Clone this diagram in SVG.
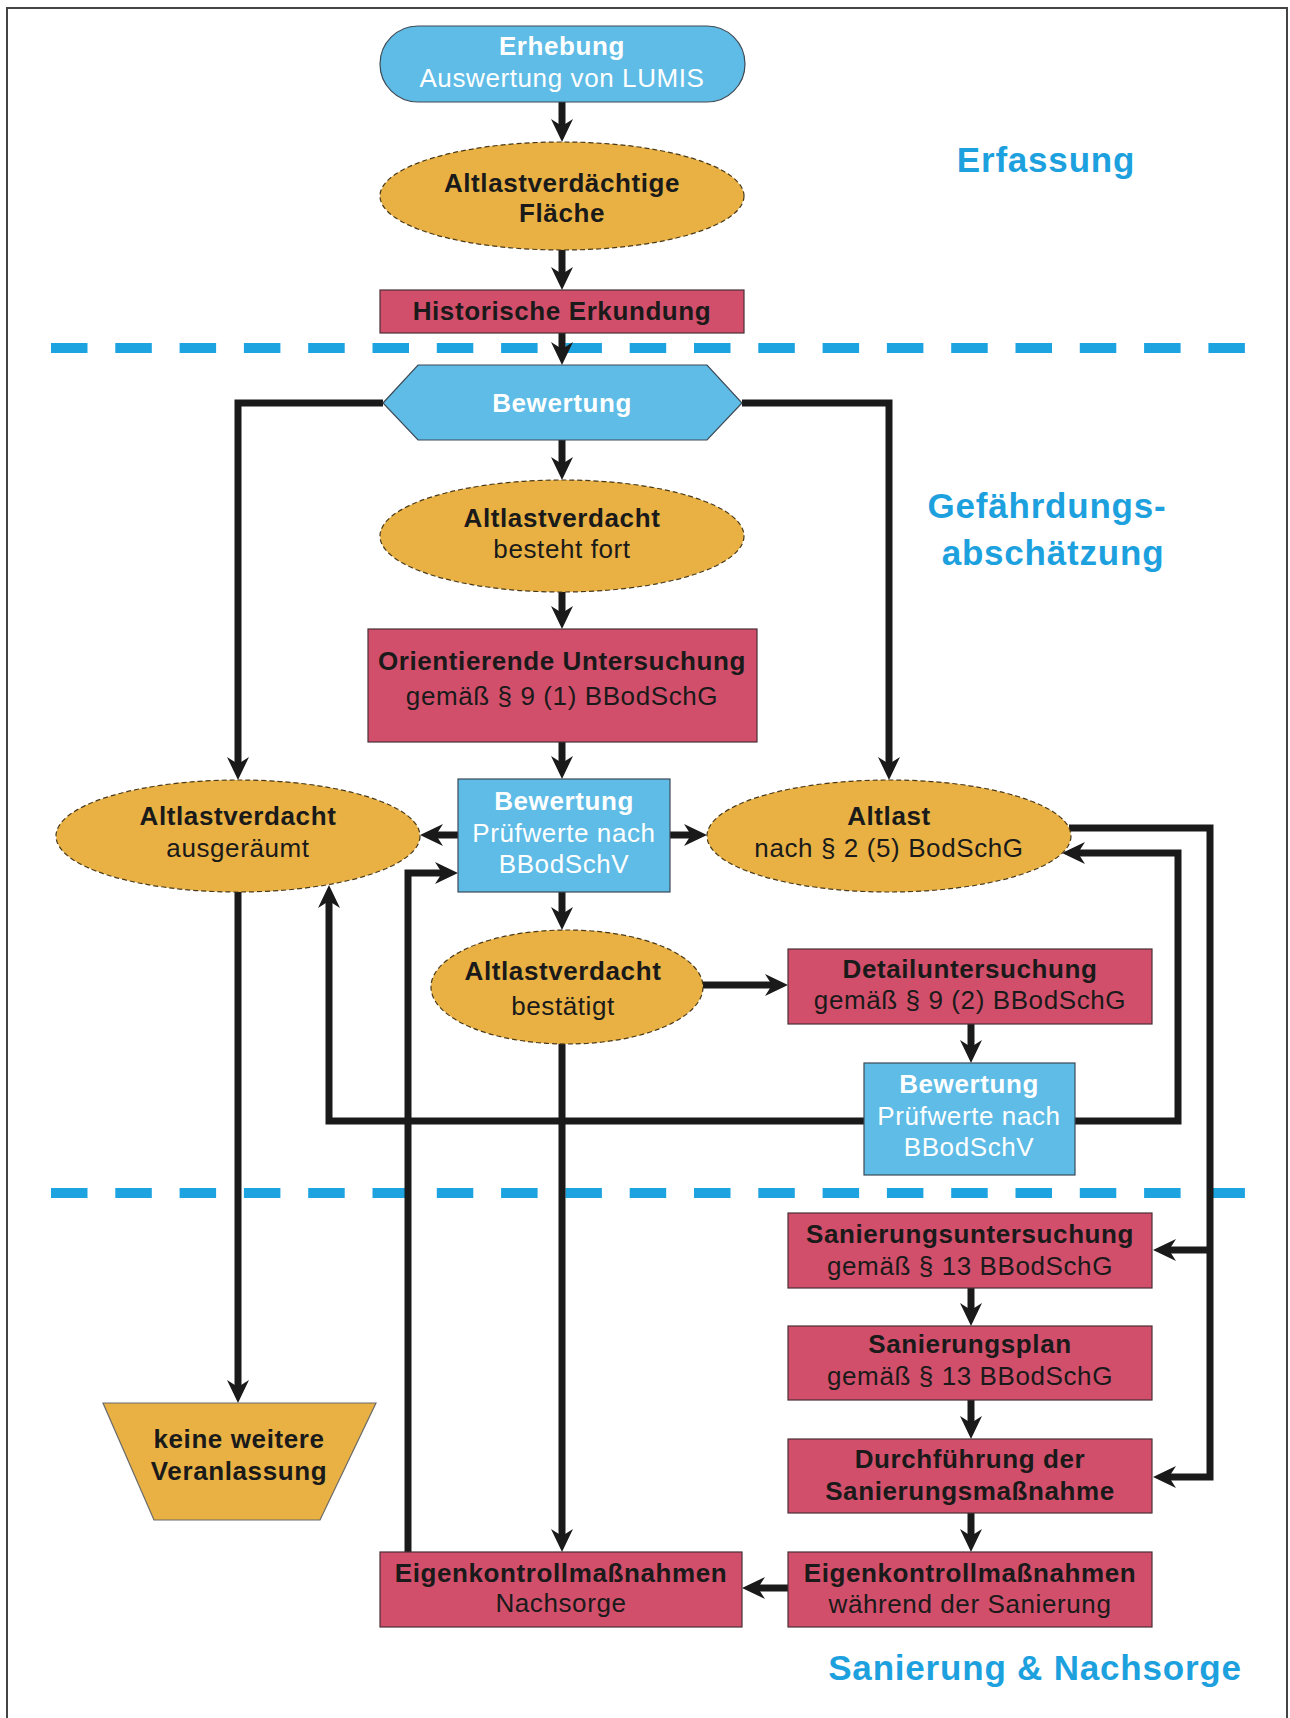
<svg xmlns="http://www.w3.org/2000/svg" width="1290" height="1718" viewBox="0 0 1290 1718">
<defs>
<style>
text{font-family:"Liberation Sans",Arial,sans-serif;font-size:26px;letter-spacing:0.6px;text-anchor:middle;fill:#1a1a1a}
.b{font-weight:bold}
.w{fill:#ffffff}
.lab{font-size:35px;font-weight:bold;fill:#1DA1DE;letter-spacing:0.8px}
.blue{fill:#5EBCE6;stroke:#3d4a55;stroke-width:1.2}
.red{fill:#D14F6A;stroke:#4a3038;stroke-width:1.2}
.ora{fill:#E9B143;stroke:#4a3a1a;stroke-width:1.2;stroke-dasharray:5 3}
.oras{fill:#E9B143;stroke:#6a6a6a;stroke-width:1.2}
.sep{stroke:#1CA3E0;stroke-width:10;stroke-dasharray:36.5 27.8;fill:none}
.c{fill:none;stroke:#1a1a1a;stroke-width:7;stroke-linejoin:miter;marker-end:url(#ah)}
.cn{fill:none;stroke:#1a1a1a;stroke-width:7;stroke-linejoin:miter}
</style>
<marker id="ah" markerUnits="userSpaceOnUse" viewBox="-10 -15 30 30" markerWidth="30" markerHeight="30" refX="0" refY="0" orient="auto">
<path d="M16,0 L-7,-11 L0,0 L-7,11 Z" fill="#1a1a1a"/>
</marker>
</defs>
<rect x="7" y="8" width="1280" height="1730" fill="none" stroke="#444" stroke-width="2"/>

<g id="separators">
<line class="sep" x1="51" y1="348" x2="1247" y2="348"/>
<line class="sep" x1="51" y1="1193" x2="1247" y2="1193"/>
</g>

<g id="connectors">
<path class="c" d="M562,102 V126"/>
<path class="c" d="M562,250 V274"/>
<path class="c" d="M562,333 V349"/>
<path class="c" d="M562,440 V464"/>
<path class="c" d="M562,592 V613"/>
<path class="c" d="M562,742 V763"/>
<path class="c" d="M383,403 H238 V764"/>
<path class="c" d="M742,403 H889 V764"/>
<path class="c" d="M458,835 H436"/>
<path class="c" d="M670,835 H691"/>
<path class="c" d="M562,892 V914"/>
<path class="c" d="M703,985 H772"/>
<path class="c" d="M971,1024 V1047"/>
<path class="c" d="M864,1121 H329 V901"/>
<path class="c" d="M1075,1121 H1178 V853 H1078"/>
<path class="c" d="M1069,828 H1210 V1477 H1169"/>
<path class="c" d="M1210,1250 H1169"/>
<path class="c" d="M238,892 V1387"/>
<path class="c" d="M562,1043 V1536"/>
<path class="c" d="M408,1552 V873 H442"/>
<path class="c" d="M971,1288 V1310"/>
<path class="c" d="M971,1400 V1423"/>
<path class="c" d="M971,1513 V1536"/>
<path class="c" d="M788,1588 H758"/>
</g>

<g id="erhebung">
<rect class="blue" x="380" y="26" width="365" height="76" rx="38" ry="38"/>
<text class="b w" x="562" y="55">Erhebung</text>
<text class="w" x="562" y="87">Auswertung von LUMIS</text>
</g>

<g id="flaeche">
<ellipse class="ora" cx="562" cy="196" rx="182" ry="54"/>
<text class="b" x="562" y="192">Altlastverdächtige</text>
<text class="b" x="562" y="222">Fläche</text>
</g>

<g id="historische">
<rect class="red" x="380" y="290" width="364" height="43"/>
<text class="b" x="562" y="320">Historische Erkundung</text>
</g>

<g id="bewertung1">
<polygon class="blue" points="383,403 418,365 707,365 742,403 707,440 418,440"/>
<text class="b w" x="562" y="412">Bewertung</text>
</g>

<g id="besteht">
<ellipse class="ora" cx="562" cy="536" rx="182" ry="56"/>
<text class="b" x="562" y="527">Altlastverdacht</text>
<text x="562" y="558">besteht fort</text>
</g>

<g id="orientierende">
<rect class="red" x="368" y="629" width="389" height="113"/>
<text class="b" x="562" y="670">Orientierende Untersuchung</text>
<text x="562" y="705">gemäß § 9 (1) BBodSchG</text>
</g>

<g id="bewertung2">
<rect class="blue" x="458" y="779" width="212" height="113"/>
<text class="b w" x="564" y="810">Bewertung</text>
<text class="w" x="564" y="842">Prüfwerte nach</text>
<text class="w" x="564" y="873">BBodSchV</text>
</g>

<g id="ausgeraeumt">
<ellipse class="ora" cx="238" cy="836" rx="182" ry="56"/>
<text class="b" x="238" y="825">Altlastverdacht</text>
<text x="238" y="857">ausgeräumt</text>
</g>

<g id="altlast">
<ellipse class="ora" cx="889" cy="836" rx="182" ry="56"/>
<text class="b" x="889" y="825">Altlast</text>
<text x="889" y="857">nach § 2 (5) BodSchG</text>
</g>

<g id="bestaetigt">
<ellipse class="ora" cx="567" cy="987" rx="136" ry="57"/>
<text class="b" x="563" y="980">Altlastverdacht</text>
<text x="563" y="1015">bestätigt</text>
</g>

<g id="detail">
<rect class="red" x="788" y="949" width="364" height="75"/>
<text class="b" x="970" y="978">Detailuntersuchung</text>
<text x="970" y="1009">gemäß § 9 (2) BBodSchG</text>
</g>

<g id="bewertung3">
<rect class="blue" x="864" y="1063" width="211" height="112"/>
<text class="b w" x="969" y="1093">Bewertung</text>
<text class="w" x="969" y="1125">Prüfwerte nach</text>
<text class="w" x="969" y="1156">BBodSchV</text>
</g>

<g id="sanierungsuntersuchung">
<rect class="red" x="788" y="1213" width="364" height="75"/>
<text class="b" x="970" y="1243">Sanierungsuntersuchung</text>
<text x="970" y="1275">gemäß § 13 BBodSchG</text>
</g>

<g id="sanierungsplan">
<rect class="red" x="788" y="1326" width="364" height="74"/>
<text class="b" x="970" y="1353">Sanierungsplan</text>
<text x="970" y="1385">gemäß § 13 BBodSchG</text>
</g>

<g id="durchfuehrung">
<rect class="red" x="788" y="1439" width="364" height="74"/>
<text class="b" x="970" y="1468">Durchführung der</text>
<text class="b" x="970" y="1500">Sanierungsmaßnahme</text>
</g>

<g id="eigen-waehrend">
<rect class="red" x="788" y="1552" width="364" height="75"/>
<text class="b" x="970" y="1582">Eigenkontrollmaßnahmen</text>
<text x="970" y="1613">während der Sanierung</text>
</g>

<g id="eigen-nachsorge">
<rect class="red" x="380" y="1552" width="362" height="75"/>
<text class="b" x="561" y="1582">Eigenkontrollmaßnahmen</text>
<text x="561" y="1612">Nachsorge</text>
</g>

<g id="keine">
<polygon class="oras" points="103,1403 376,1403 320,1520 154,1520"/>
<text class="b" x="239" y="1448">keine weitere</text>
<text class="b" x="239" y="1480">Veranlassung</text>
</g>

<g id="labels">
<text class="lab" x="1046" y="172">Erfassung</text>
<text class="lab" x="1047" y="518">Gefährdungs-</text>
<text class="lab" x="1053" y="565">abschätzung</text>
<text class="lab" x="1035" y="1680">Sanierung &amp; Nachsorge</text>
</g>
</svg>
